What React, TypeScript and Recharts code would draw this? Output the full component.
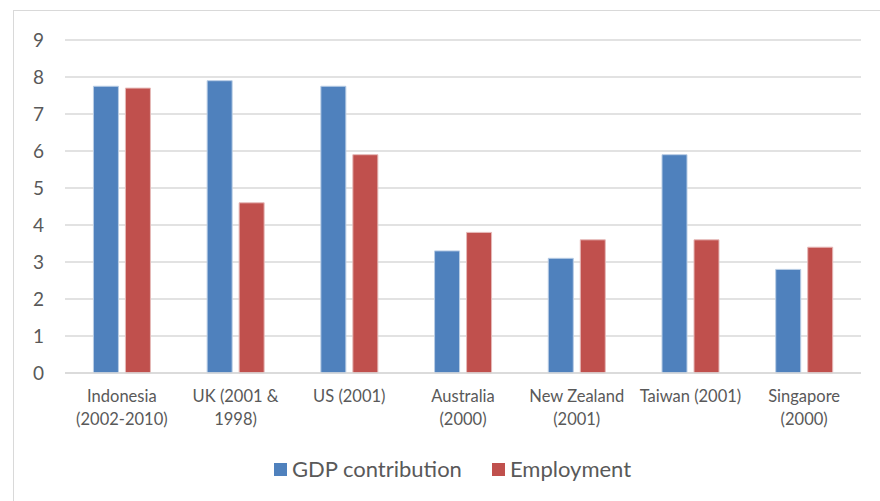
import React from 'react';
import { BarChart, Bar, XAxis, YAxis, CartesianGrid, Legend } from 'recharts';

const categories = [
  'Indonesia\n(2002-2010)',
  'UK (2001 &\n1998)',
  'US (2001)',
  'Australia\n(2000)',
  'New Zealand\n(2001)',
  'Taiwan (2001)',
  'Singapore\n(2000)',
];
const gdpContribution = [7.75, 7.9, 7.75, 3.3, 3.1, 5.9, 2.8];
const employment = [7.7, 4.6, 5.9, 3.8, 3.6, 3.6, 3.4];
const yTicks = [0, 1, 2, 3, 4, 5, 6, 7, 8, 9];

const series = [
  { key: 'gdp', name: 'GDP contribution', color: '#4F81BD', edge: '#b9cde5' },
  { key: 'emp', name: 'Employment', color: '#C0504D', edge: '#e6b9b8' },
];

const data = categories.map((name, i) => ({
  name,
  gdp: gdpContribution[i],
  emp: employment[i],
}));

const FONT = 'Lato, "Open Sans", sans-serif';

const CategoryTick = (props: any) => {
  const { x, y, payload } = props;
  const lines: string[] = String(payload.value).split('\n');
  return (
    <g transform={`translate(${x},${y})`}>
      <text textAnchor="middle" fill="#595959" fontSize={16.5} fontFamily={FONT}>
        {lines.map((l, i) => (
          <tspan key={i} x={0} dy={i === 0 ? 21 : 23}>
            {l}
          </tspan>
        ))}
      </text>
    </g>
  );
};

const LegendContent = () => (
  <div
    style={{
      height: 57,
      boxSizing: 'border-box',
      paddingTop: 12,
      paddingLeft: 30,
      display: 'flex',
      justifyContent: 'center',
      alignItems: 'flex-start',
      fontFamily: FONT,
      fontSize: 22,
      color: '#595959',
      lineHeight: '26px',
    }}
  >
    {series.map((s) => (
      <div key={s.key} style={{ display: 'flex', alignItems: 'center', margin: '0 15px' }}>
        <span style={{ width: 13, height: 13, background: s.color, marginRight: 5, display: 'inline-block' }} />
        <span>{s.name}</span>
      </div>
    ))}
  </div>
);

const App: React.FC = () => {
  return (
    <div
      style={{
        position: 'absolute',
        left: 13,
        top: 10,
        width: 866,
        height: 490,
        border: '1px solid #d9d9d9',
        background: '#fff',
      }}
    >
      <BarChart
        width={866}
        height={490}
        data={data}
        margin={{ top: 29, right: 19, bottom: 0, left: 0 }}
        barCategoryGap="25%"
        barGap={7}
      >
        <CartesianGrid vertical={false} stroke="#d9d9d9" strokeWidth={1.5} />
        <XAxis
          dataKey="name"
          axisLine={{ stroke: '#d9d9d9', strokeWidth: 1.5 }}
          tickLine={false}
          interval={0}
          height={71}
          tick={<CategoryTick />}
        />
        <YAxis
          width={51}
          domain={[0, 9]}
          ticks={yTicks}
          axisLine={false}
          tickLine={false}
          tickSize={0}
          tickMargin={21}
          tick={{ fill: '#595959', fontSize: 19, fontFamily: FONT }}
        />
        <Legend verticalAlign="bottom" height={57} content={<LegendContent />} />
        {series.map((s) => (
          <Bar
            key={s.key}
            dataKey={s.key}
            name={s.name}
            fill={s.color}
            stroke={s.edge}
            strokeWidth={1}
            isAnimationActive={false}
          />
        ))}
      </BarChart>
    </div>
  );
};

export default App;
